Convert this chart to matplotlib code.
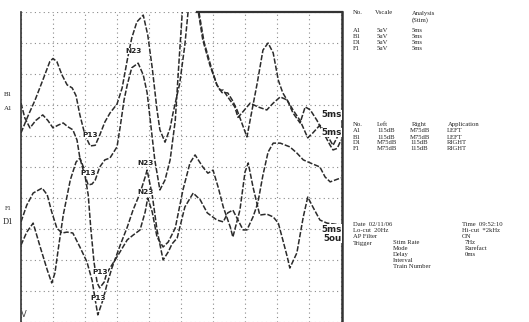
"""Potenciales evocados: cuatro trazos con tabla de parámetros"""

import matplotlib.pyplot as plt

# Trazos (tiempo en ms, amplitud en divisiones de pantalla)
t_a1 = [0, 1.1, 2.2, 3.4, 4.5, 5.0, 5.6, 6.4, 7.2, 8.0, 8.6, 9.2, 10.0, 10.8, 11.6,
        12.3, 13.1, 13.9, 15.0, 15.8, 16.6, 17.3, 18.1, 19.1, 19.8, 20.5, 21.25, 21.7,
        22.5, 23.3, 23.75, 24.8, 25.6, 26.1, 26.9, 27.7, 28.4, 29.5, 30.6, 31.4, 32.3,
        33.0, 33.75, 34.5, 35.3, 36.1, 36.9, 37.8, 38.6, 39.4, 40.2, 40.9, 42.5, 43.6,
        44.8, 45.6, 46.7, 47.8, 48.75, 50.0]
v_a1 = [6.1, 6.65, 7.16, 7.8, 8.4, 8.5, 8.4, 7.97, 7.65, 7.55, 7.3, 6.68, 6.03, 5.68, 5.7,
        6.03, 6.45, 6.74, 7.03, 7.55, 8.45, 9.16, 9.68, 9.9, 9.26, 8.2, 6.84, 6.2,
        5.8, 6.26, 6.74, 7.7, 8.94, 10.0, 11.0, 10.0, 9.1, 8.29, 7.65, 7.4, 7.39,
        7.16, 6.84, 6.42, 5.97, 6.84, 7.7, 8.77, 9.0, 8.68, 7.8, 7.39, 6.84, 6.5,
        5.94, 6.1, 6.35, 6.03, 5.7, 6.2]

t_b1 = [0, 0.6, 1.4, 2.3, 3.4, 4.2, 5.0, 5.8, 6.6, 7.3, 8.1, 8.75, 9.2, 9.8, 10.5,
        11.1, 11.6, 12.3, 13.1, 13.9, 15.0, 15.5, 16.1, 16.6, 17.3, 18.3, 19.1, 19.7,
        20.2, 20.9, 21.7, 22.5, 23.3, 24.1, 24.7, 25.2, 25.8, 27.8, 28.6, 29.7, 30.6,
        31.1, 31.6, 32.3, 33.4, 33.9, 34.5, 35.8, 37.0, 38.4, 39.4, 40.5, 41.6, 42.5,
        43.6, 44.4, 45.2, 46.25, 47.0, 48.3, 48.75, 49.4, 50.0]
v_b1 = [7.06, 6.58, 6.26, 6.5, 6.68, 6.5, 6.26, 6.35, 6.42, 6.3, 6.2, 5.87, 5.29, 4.84, 4.42,
        4.45, 4.58, 5.0, 5.23, 5.29, 5.65, 6.3, 7.16, 7.65, 8.2, 8.35, 7.97, 7.4,
        6.5, 5.23, 4.26, 4.58, 5.23, 6.5, 8.45, 10.0, 11.0, 10.0, 9.03, 8.23, 7.65,
        7.48, 7.48, 7.26, 6.94, 6.6, 6.74, 7.06, 6.94, 6.84, 7.06, 7.26, 7.16, 6.74,
        6.42, 6.94, 6.84, 6.5, 6.2, 5.7, 5.55, 5.6, 5.87]

t_d1 = [0, 0.9, 1.9, 3.3, 4.1, 4.8, 5.6, 6.4, 7.2, 8.1, 9.2, 10.3, 11.1, 11.6, 12.0,
        12.8, 13.4, 14.2, 15.5, 16.6, 17.5, 18.6, 19.4, 19.7, 20.5, 21.25, 22.2, 23.0,
        23.6, 24.4, 25.6, 26.9, 28.0, 29.1, 30.6, 31.6, 32.3, 33.1, 33.75, 34.7, 35.3,
        36.25, 37.0, 37.8, 38.6, 39.4, 40.5, 42.0, 43.1, 44.1, 45.2, 46.7, 47.5, 48.3, 50.0]
v_d1 = [3.23, 3.77, 4.16, 4.32, 4.1, 3.55, 3.03, 2.87, 2.9, 2.87, 2.42, 1.94, 1.35, 0.71, 0.23,
        0.71, 1.19, 1.74, 2.48, 3.06, 3.61, 4.16, 4.68, 4.9, 4.1, 2.97, 2.0, 2.26,
        2.52, 2.71, 3.71, 4.16, 3.94, 3.52, 3.29, 3.23, 3.52, 3.61, 3.35, 2.97, 2.97,
        3.39, 3.84, 4.74, 5.48, 5.77, 5.77, 5.65, 5.45, 5.23, 5.13, 5.0, 4.68, 4.52, 4.65]

t_f1 = [0, 0.9, 1.9, 3.0, 4.1, 4.8, 5.3, 5.8, 6.6, 7.7, 8.6, 9.2, 9.8, 10.5, 10.9,
        11.4, 11.9, 12.3, 13.0, 13.4, 15.0, 16.6, 17.5, 18.6, 19.4, 19.8, 20.5, 21.25,
        22.2, 23.0, 24.1, 25.3, 26.4, 27.2, 28.4, 29.2, 30.0, 30.8, 31.6, 32.7, 33.1,
        34.2, 35.0, 35.5, 36.25, 37.3, 38.4, 39.4, 40.2, 40.9, 41.6, 42.0, 43.1, 44.1,
        44.8, 45.6, 46.7, 47.8, 50.0]
v_f1 = [2.48, 2.9, 3.19, 2.42, 1.68, 1.26, 1.58, 2.32, 3.45, 4.58, 5.16, 5.29, 4.97, 4.1, 3.03,
        1.94, 1.26, 1.1, 1.29, 1.58, 2.1, 2.65, 2.8, 2.97, 3.55, 4.0, 3.55, 2.74,
        2.42, 2.58, 3.03, 4.26, 5.13, 5.39, 5.0, 4.8, 4.9, 4.35, 3.71, 3.06, 2.74,
        3.61, 4.84, 5.13, 4.35, 3.45, 3.48, 3.39, 3.19, 2.65, 2.1, 1.74, 2.23, 3.39,
        4.03, 3.71, 3.29, 3.19, 3.13]

# Marcas de picos
picos_txt = ['N23', 'P13', 'P13', 'N23', 'N23', 'P13', 'P13']
picos_t = [17.5, 10.8, 10.5, 19.4, 19.4, 12.3, 12.0]
picos_v = [8.74, 6.03, 4.8, 5.13, 4.2, 1.61, 0.77]

# Escalas al final de cada par
esc_txt = ['5ms', '5ms', '5ms', '5ou']
esc_v = [6.68, 6.12, 3.0, 2.7]

# Tablas de la derecha
canales = ['A1', 'B1', 'D1', 'F1']
vscale = ['5uV', '5uV', '5uV', '5uV']
analisis = ['5ms', '5ms', '5ms', '5ms']
izq = ['115dB', '115dB', 'M75dB', 'M75dB']
der = ['M75dB', 'M75dB', '115dB', '115dB']
aplic = ['LEFT', 'LEFT', 'RIGHT', 'RIGHT']
estim = [('Stim Rate', '7Hz'), ('Mode', 'Rarefact'), ('Delay', '0ms'),
         ('Interval', ''), ('Train Number', '')]

W, H = 529, 322
fig = plt.figure(figsize=(W / 100, H / 100), dpi=100)
ax = fig.add_axes([21 / W, 0, 321 / W, 310 / H])
ax.set_xlim(0, 50.15)
ax.set_ylim(0, 10)

# Rejilla punteada
ax.set_xticks(range(0, 51, 5))
ax.set_yticks(range(0, 11))
ax.grid(True, color='#8a8a8a', linestyle=(0, (1, 3)), linewidth=0.8)
ax.tick_params(length=0, labelbottom=False, labelleft=False)
for s in ['top', 'bottom']:
    ax.spines[s].set_visible(False)
ax.spines['left'].set_linewidth(1.2)
ax.spines['right'].set_linewidth(1.8)
ax.spines['left'].set_color('#333333')
ax.spines['right'].set_color('#333333')
ax.axhline(10, xmin=0.547, xmax=1, color='#333333', lw=1.6, clip_on=False)

for t, v in [(t_a1, v_a1), (t_b1, v_b1), (t_d1, v_d1), (t_f1, v_f1)]:
    ax.plot(t, v, color='#2b2b2b', lw=1.1, dashes=(3.5, 1.2))

for s, t, v in zip(picos_txt, picos_t, picos_v):
    ax.text(t, v, s, fontsize=5.3, fontweight='bold', color='#222222', ha='center', va='center',
            bbox=dict(facecolor='white', edgecolor='none', pad=0.2))

for s, v in zip(esc_txt, esc_v):
    ax.text(50.1, v, s, fontsize=6.3, fontweight='bold', color='#222222', ha='right', va='center',
            bbox=dict(facecolor='white', edgecolor='none', pad=0.1))

ax.text(0.4, 0.25, 'V', fontsize=6, color='#444444', ha='center', va='center')


def txt(x, y, s, size=4.8, **kw):
    fig.text(x / W, 1 - y / H, s, fontsize=size, family='Liberation Serif',
             color='#222222', va='center', **kw)


# Etiquetas de canal a la izquierda
txt(4, 95, 'B1', size=5)
txt(4, 108, 'A1', size=5)
txt(5, 209, 'F1', size=4.5)
txt(3, 222, 'D1', size=6)

# Tabla 1
txt(353, 13, 'No.')
txt(375, 13, 'Vscale')
txt(412, 13, 'Analysis')
txt(412, 20, '(Stim)')
for i in range(len(canales)):
    y = 31 + 6 * i
    txt(353, y, canales[i])
    txt(377, y, vscale[i])
    txt(412, y, analisis[i])

# Tabla 2
txt(353, 124, 'No.')
txt(377, 124, 'Left')
txt(412, 124, 'Right')
txt(448, 124, 'Application')
for i in range(len(canales)):
    y = 131 + 6 * i
    for x, s in zip([353, 377, 410, 447], [canales[i], izq[i], der[i], aplic[i]]):
        txt(x, y, s)

# Tabla 3
txt(353, 225, 'Date  02/11/06')
txt(462, 225, 'Time  09:52:10')
txt(353, 231, 'Lo-cut  20Hz')
txt(462, 231, 'Hi-cut  *2kHz')
txt(353, 237, 'AP Filter')
txt(462, 237, 'ON')
txt(353, 243, 'Trigger')
for i, (k, v) in enumerate(estim):
    y = 243 + 5.9 * i
    txt(393, y, k)
    if v:
        txt(465, y, v)

fig.savefig('out.png', dpi=100)
